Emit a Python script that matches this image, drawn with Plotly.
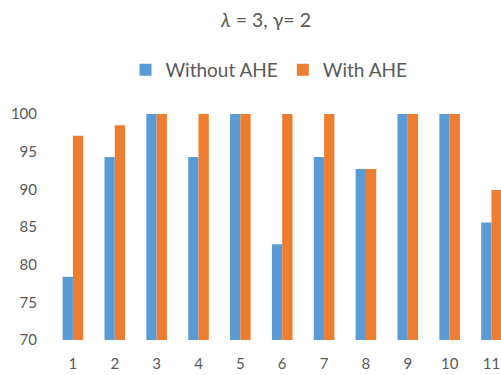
import plotly.graph_objects as go

categories = [1, 2, 3, 4, 5, 6, 7, 8, 9, 10, 11]
without_ahe = [78.4, 94.3, 100, 94.3, 100, 82.7, 94.3, 92.7, 100, 100, 85.6]
with_ahe = [97.1, 98.5, 100, 100, 100, 100, 100, 92.7, 100, 100, 89.9]
y_ticks = [70, 75, 80, 85, 90, 95, 100]

FONT = "Lato"
GREY = "#595959"

fig = go.Figure()
fig.add_trace(go.Bar(x=categories, y=without_ahe, name="Without AHE",
                     marker=dict(color="#5B9BD5", line=dict(width=0))))
fig.add_trace(go.Bar(x=categories, y=with_ahe, name="With AHE",
                     marker=dict(color="#ED7D31", line=dict(width=0))))

fig.update_layout(
    width=501, height=375,
    margin=dict(l=52, r=0, t=114, b=35),
    paper_bgcolor="white", plot_bgcolor="white",
    barmode="group", bargap=0.508, bargroupgap=0,
    font=dict(family=FONT, color=GREY),
    title=dict(text="<i>λ</i> = 3, γ= 2", x=266 / 501, xref="container",
               xanchor="center", y=1 - 20 / 375, yref="container",
               yanchor="middle", font=dict(size=19.5, color=GREY, family=FONT)),
    legend=dict(orientation="h", x=(269 - 52) / 449, xanchor="center",
                y=(340 - 70) / 226, yanchor="middle",
                font=dict(size=19, color=GREY), itemwidth=30,
                tracegroupgap=0, traceorder="normal"),
    showlegend=True,
)
fig.update_xaxes(range=[0.5, 11.227], tickmode="array", tickvals=categories,
                 ticktext=[str(c) for c in categories], showgrid=False,
                 zeroline=False, showline=False, ticks="",
                 tickfont=dict(size=15, color=GREY), ticklabelstandoff=13)
fig.update_yaxes(range=[70, 100], tickmode="array", tickvals=y_ticks,
                 showgrid=False, zeroline=False, showline=False, ticks="",
                 tickfont=dict(size=15, color=GREY), ticklabelstandoff=14)

fig.write_html("out.html")
